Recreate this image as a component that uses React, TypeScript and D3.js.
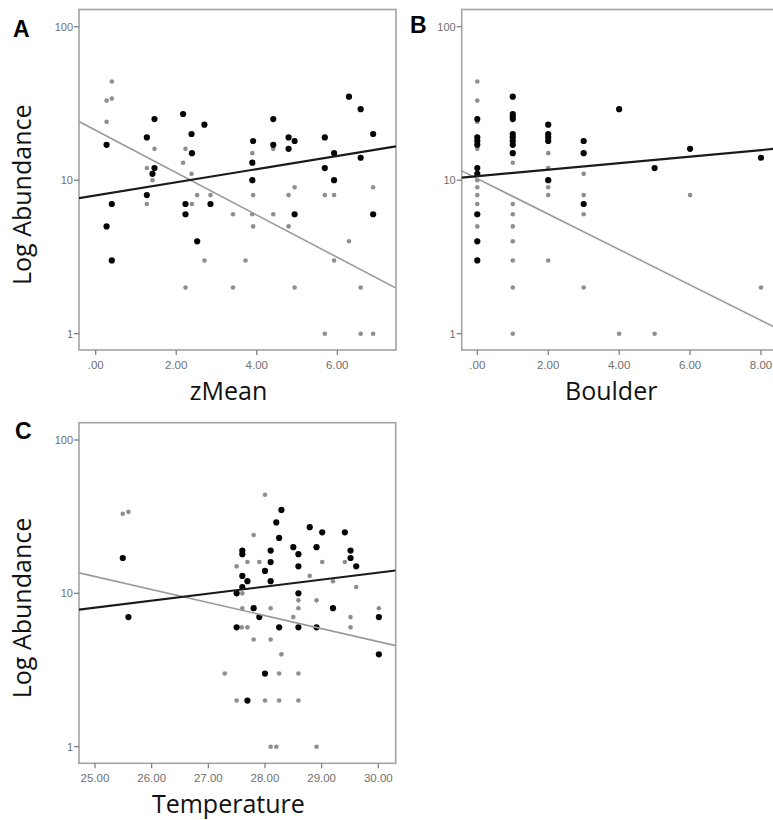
import React from 'react';
import * as d3 from 'd3';

// ---------- data ----------
const abundanceTicks = [1, 10, 100];
const zMeanTicks = [0, 2, 4, 6];
const boulderTicks = [0, 2, 4, 6, 8];
const temperatureTicks = [25, 26, 27, 28, 29, 30];

type Pt = [number, number];

const zMeanBlack: Pt[] = [
  [0.27, 17], [0.4, 7], [0.27, 5], [0.4, 3], [1.27, 19], [1.27, 8], [1.46, 25], [1.46, 12], [1.41, 11],
  [2.17, 27], [2.38, 20], [2.39, 15], [2.23, 7], [2.23, 6], [2.52, 4], [2.7, 23], [2.85, 7],
  [3.91, 18], [3.89, 13], [3.89, 10], [4.41, 25], [4.41, 17], [4.79, 19], [4.79, 16], [4.94, 18], [4.94, 6],
  [5.69, 19], [5.69, 12], [5.92, 15], [5.92, 10], [6.29, 35], [6.58, 29], [6.58, 14], [6.89, 20], [6.89, 6],
];
const zMeanGray: Pt[] = [
  [0.4, 44], [0.27, 33], [0.4, 34], [0.27, 24], [1.46, 16], [1.27, 12], [1.41, 10], [1.27, 7],
  [2.23, 16], [2.17, 13], [2.38, 11], [2.52, 8], [2.85, 8], [2.39, 7], [2.7, 3], [2.23, 2],
  [3.41, 6], [3.41, 2], [3.72, 3], [3.89, 15], [3.91, 8], [3.89, 6], [3.91, 5], [4.41, 16], [4.41, 6],
  [4.79, 8], [4.79, 5], [4.94, 9], [4.94, 2], [5.69, 8], [5.69, 1], [5.92, 8], [5.92, 3], [6.29, 4],
  [6.58, 2], [6.58, 1], [6.89, 9], [6.89, 1],
];
const zMeanFitBlack: Pt[] = [[-0.415, 7.64], [7.457, 16.6]];
const zMeanFitGray: Pt[] = [[-0.415, 24.1], [7.457, 1.98]];

const boulderBlack: Pt[] = [
  [0, 25], [0, 19], [0, 18], [0, 17], [0, 12], [0, 11], [0, 6], [0, 4], [0, 3],
  [1, 35], [1, 27], [1, 26], [1, 25], [1, 20], [1, 19], [1, 18], [1, 17], [1, 15],
  [2, 23], [2, 20], [2, 19], [2, 18], [2, 10], [3, 18], [3, 15], [3, 7],
  [4, 29], [5, 12], [6, 16], [8, 14],
];
const boulderGray: Pt[] = [
  [0, 44], [0, 33], [0, 24], [0, 16], [0, 10], [0, 9], [0, 8], [0, 7], [0, 5],
  [1, 13], [1, 7], [1, 6], [1, 5], [1, 4], [1, 3], [1, 2], [1, 1],
  [2, 15], [2, 12], [2, 9], [2, 8], [2, 3], [3, 11], [3, 8], [3, 6], [3, 2],
  [4, 1], [5, 1], [6, 8], [8, 2],
];
const boulderFitBlack: Pt[] = [[-0.44, 10.4], [8.5, 16.1]];
const boulderFitGray: Pt[] = [[-0.44, 11.5], [8.5, 1.07]];

const temperatureBlack: Pt[] = [
  [25.49, 17], [25.59, 7], [28.29, 35], [28.2, 29], [28.25, 23], [28.79, 27], [29.01, 25], [29.41, 25],
  [28.5, 20], [28.91, 20], [28.1, 19], [28.59, 18], [29.51, 19], [27.6, 19], [27.6, 18], [29.51, 17],
  [29.61, 15], [28.1, 16], [28.59, 15], [28.0, 14], [27.6, 13], [27.69, 12], [28.1, 12], [27.6, 11],
  [27.5, 10], [28.59, 10], [27.8, 8], [29.2, 8], [27.9, 7], [30.01, 7], [27.5, 6], [28.25, 6],
  [28.59, 6], [28.91, 6], [30.01, 4], [28.0, 3], [27.69, 2],
];
const temperatureGray: Pt[] = [
  [25.49, 33], [25.59, 34], [28.0, 44], [27.8, 24], [27.5, 15], [27.69, 16], [27.9, 16], [28.79, 13],
  [29.01, 16], [29.41, 16], [29.2, 12], [29.61, 11], [27.6, 10], [27.6, 8], [28.1, 8], [28.59, 9],
  [28.59, 8], [28.5, 7], [28.91, 9], [29.51, 7], [30.01, 8], [27.59, 6], [27.69, 6], [29.51, 6],
  [27.8, 5], [28.1, 5], [28.29, 4], [27.29, 3], [28.25, 3], [28.59, 3], [27.5, 2], [28.0, 2],
  [28.25, 2], [28.59, 2], [28.1, 1], [28.2, 1], [28.91, 1],
];
const temperatureFitBlack: Pt[] = [[24.718, 7.83], [30.306, 14.1]];
const temperatureFitGray: Pt[] = [[24.718, 13.6], [30.306, 4.56]];

// ---------- helpers ----------
const fmtTick = (d: number) => {
  const s = d.toFixed(2);
  return s.startsWith('0') ? s.slice(1) : s;
};

const TICK_FONT = "'Liberation Sans', Arial, sans-serif";
const TITLE_FONT = "'Open Sans', 'Noto Sans', sans-serif";

type PanelProps = {
  letter: string;
  letterX: number;
  letterY: number;
  frame: { x0: number; x1: number; y0: number; y1: number };
  xDomain: [number, number];
  xRange: [number, number];
  yRange: [number, number];
  xTicks: number[];
  black: Pt[];
  gray: Pt[];
  fitBlack: Pt[];
  fitGray: Pt[];
  xTitle: string;
  showY: boolean;
  clipId: string;
};

function Panel(p: PanelProps) {
  const x = d3.scaleLinear().domain(p.xDomain).range(p.xRange);
  const y = d3.scaleLog().domain([1, 100]).range(p.yRange);
  const line = d3.line<Pt>().x((d) => x(d[0])).y((d) => y(d[1]));
  const { x0, x1, y0, y1 } = p.frame;
  const cx = (x0 + x1) / 2;
  const cy = (y0 + y1) / 2;
  return (
    <g>
      <defs>
        <clipPath id={p.clipId}>
          <rect x={x0} y={y0} width={x1 - x0} height={y1 - y0} />
        </clipPath>
      </defs>
      <rect x={x0} y={y0} width={x1 - x0} height={y1 - y0} fill="#fff" stroke="#a3a3a3" strokeWidth={1.6} />
      {abundanceTicks.map((t) => (
        <g key={'y' + t}>
          <line x1={x0 - 5} x2={x0} y1={y(t)} y2={y(t)} stroke="#777" strokeWidth={1.2} />
          <text x={x0 - 6} y={y(t) + 4} textAnchor="end" fontFamily={TICK_FONT} fontSize={11} fill="#707070">
            {t}
          </text>
        </g>
      ))}
      {p.xTicks.map((t) => (
        <g key={'x' + t}>
          <line x1={x(t)} x2={x(t)} y1={y1} y2={y1 + 5} stroke="#777" strokeWidth={1.2} />
          <text x={x(t)} y={y1 + 18.5} textAnchor="middle" fontFamily={TICK_FONT} fontSize={11.5} fill="#707070">
            {fmtTick(t)}
          </text>
        </g>
      ))}
      <g clipPath={`url(#${p.clipId})`}>
        {p.gray.map((d, i) => (
          <circle key={'g' + i} cx={x(d[0])} cy={y(d[1])} r={2.3} fill="#8e8e8e" />
        ))}
        {p.black.map((d, i) => (
          <circle key={'b' + i} cx={x(d[0])} cy={y(d[1])} r={3.1} fill="#050505" />
        ))}
        <path d={line(p.fitGray) || ''} fill="none" stroke="#9a9a9a" strokeWidth={1.6} />
        <path d={line(p.fitBlack) || ''} fill="none" stroke="#1a1a1a" strokeWidth={2.2} />
      </g>
      <text x={cx - 9} y={y1 + 50} textAnchor="middle" fontFamily={TITLE_FONT} fontSize={25} fill="#111">
        {p.xTitle}
      </text>
      {p.showY && (
        <text
          transform={`translate(31, ${cy + 15}) rotate(-90)`}
          textAnchor="middle"
          fontFamily={TITLE_FONT}
          fontSize={25}
          fill="#111"
        >
          Log Abundance
        </text>
      )}
      <text x={p.letterX} y={p.letterY} fontFamily={TICK_FONT} fontWeight="bold" fontSize={23} fill="#000">
        {p.letter}
      </text>
    </g>
  );
}

export default function App() {
  return (
    <svg
      width={773}
      height={820}
      style={{ position: 'absolute', left: 0, top: 0, background: '#fff' }}
    >
      <rect x={0} y={0} width={773} height={820} fill="#fff" />
      <Panel
        letter="A"
        letterX={13}
        letterY={37}
        frame={{ x0: 79, x1: 396, y0: 9.5, y1: 350 }}
        xDomain={[0, 6]}
        xRange={[95.7, 337.3]}
        yRange={[333.7, 26.7]}
        xTicks={zMeanTicks}
        black={zMeanBlack}
        gray={zMeanGray}
        fitBlack={zMeanFitBlack}
        fitGray={zMeanFitGray}
        xTitle="zMean"
        showY={true}
        clipId="clipA"
      />
      <Panel
        letter="B"
        letterX={410}
        letterY={33}
        frame={{ x0: 461.7, x1: 778.7, y0: 9.5, y1: 350 }}
        xDomain={[0, 8]}
        xRange={[477.3, 761]}
        yRange={[333.7, 26.7]}
        xTicks={boulderTicks}
        black={boulderBlack}
        gray={boulderGray}
        fitBlack={boulderFitBlack}
        fitGray={boulderFitGray}
        xTitle="Boulder"
        showY={false}
        clipId="clipB"
      />
      <Panel
        letter="C"
        letterX={15}
        letterY={439}
        frame={{ x0: 79, x1: 395.7, y0: 422.7, y1: 763.3 }}
        xDomain={[25, 30]}
        xRange={[95, 378.3]}
        yRange={[746.7, 440]}
        xTicks={temperatureTicks}
        black={temperatureBlack}
        gray={temperatureGray}
        fitBlack={temperatureFitBlack}
        fitGray={temperatureFitGray}
        xTitle="Temperature"
        showY={true}
        clipId="clipC"
      />
    </svg>
  );
}
